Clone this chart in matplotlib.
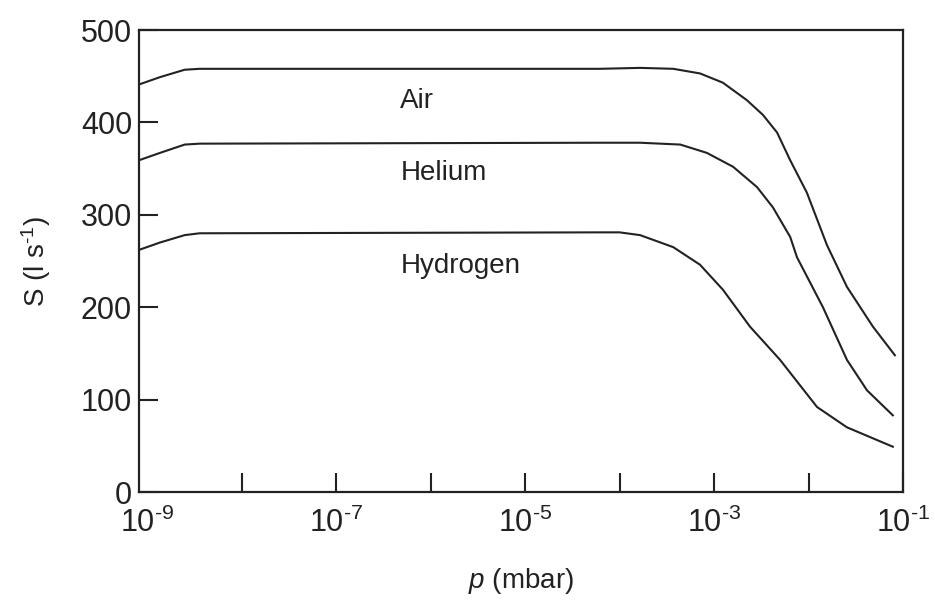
import matplotlib
matplotlib.use('Agg')
import matplotlib.pyplot as plt
from matplotlib.ticker import NullFormatter

# pumping speed S (l/s), pressure p in mbar
p_air = [8.2e-10, 1.37e-9, 2.5e-9, 3.6e-9, 6.2e-5, 1.65e-4, 3.7e-4, 7.1e-4, 1.24e-3,
         2.23e-3, 3.3e-3, 4.65e-3, 6.4e-3, 9.6e-3, 1.57e-2, 2.55e-2, 4.8e-2, 8.2e-2]
s_air = [441, 449, 457, 458, 458, 459, 458, 453, 443, 424, 408, 389, 359, 324, 267,
         222, 179, 148]

p_he = [8.2e-10, 1.37e-9, 2.5e-9, 3.6e-9, 6.2e-5, 1.65e-4, 4.4e-4, 8.4e-4, 1.59e-3,
        2.85e-3, 4.2e-3, 6.4e-3, 7.55e-3, 1.42e-2, 2.55e-2, 4.16e-2, 7.8e-2]
s_he = [359, 367, 376, 377, 378, 378, 376, 367, 352, 330, 308, 276, 254, 200, 143,
        110, 83]

p_h2 = [8.2e-10, 1.37e-9, 2.5e-9, 3.6e-9, 6.2e-5, 1.0e-4, 1.65e-4, 3.7e-4, 7.1e-4,
        1.24e-3, 2.4e-3, 5.0e-3, 1.23e-2, 2.55e-2, 7.8e-2]
s_h2 = [262, 270, 278, 280, 281, 281, 278, 265, 246, 219, 179, 143, 92, 70, 49]

xticks_major = [1e-9, 1e-7, 1e-5, 1e-3, 1e-1]
xticks_minor = [1e-8, 1e-6, 1e-4, 1e-2]
xtick_labels = [r'$10^{\text{-}9}$', r'$10^{\text{-}7}$', r'$10^{\text{-}5}$',
                r'$10^{\text{-}3}$', r'$10^{\text{-}1}$']
yticks = [0, 100, 200, 300, 400, 500]

plt.rcParams['font.family'] = ['Liberation Sans', 'DejaVu Sans']
plt.rcParams['mathtext.fontset'] = 'custom'
plt.rcParams['mathtext.rm'] = 'Liberation Sans'
plt.rcParams['mathtext.it'] = 'Liberation Sans:italic'

fig = plt.figure(figsize=(9.35, 6), dpi=100)
ax = fig.add_axes([0.1487, 0.18, 0.8171, 0.77])

for p, s in [(p_air, s_air), (p_he, s_he), (p_h2, s_h2)]:
    ax.plot(p, s, color='#222222', linewidth=1.5, solid_joinstyle='round')

ax.set_xscale('log')
ax.set_xlim(10**-9.085, 1e-1)
ax.set_ylim(0, 500)

ax.set_xticks(xticks_major)
ax.set_xticklabels(xtick_labels)
ax.set_xticks(xticks_minor, minor=True)
ax.xaxis.set_minor_formatter(NullFormatter())
ax.set_yticks(yticks)
ax.tick_params(axis='both', which='both', direction='in', length=14, width=1.5,
               labelsize=22, colors='#222222', top=False, right=False)
ax.tick_params(axis='x', which='major', pad=11)
ax.tick_params(axis='y', pad=5)
# no tick mark drawn at 10^-9 (it sits on the left frame in the original)
ax.xaxis.get_major_ticks()[0].tick1line.set_visible(False)
for sp in ax.spines.values():
    sp.set_linewidth(1.6)
    sp.set_color('#222222')

ax.text(4.8e-7, 423, 'Air', fontsize=20, color='#222222', va='center')
ax.text(4.8e-7, 345, 'Helium', fontsize=20, color='#222222', va='center')
ax.text(4.8e-7, 245, 'Hydrogen', fontsize=20, color='#222222', va='center')

ax.set_xlabel('$p$ (mbar)', fontsize=20, color='#222222', labelpad=20)
ax.set_ylabel('S (l s$^{\\text{-}1}$)', fontsize=20, color='#222222', labelpad=20)

plt.savefig('out.png', dpi=100)
